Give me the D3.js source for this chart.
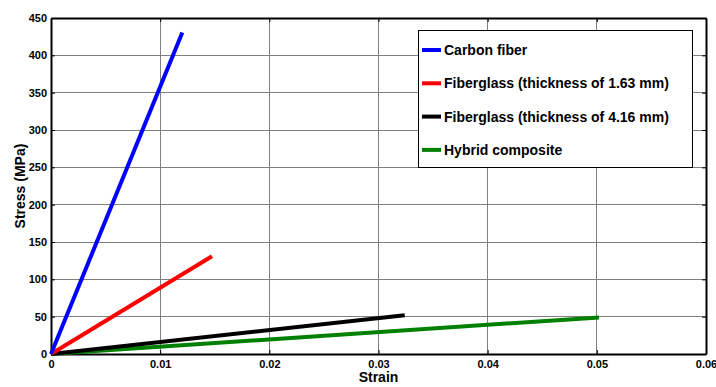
<!DOCTYPE html>
<html><head><meta charset="utf-8">
<script src="https://cdn.jsdelivr.net/npm/d3@7"></script>
<style>body{margin:0;background:#fff}svg{display:block;font-family:"Liberation Sans",Arial,sans-serif}</style>
</head><body>
<svg id="c" width="716" height="387"></svg>
<script>
const seriesNames = ["Carbon fiber","Fiberglass (thickness of 1.63 mm)","Fiberglass (thickness of 4.16 mm)","Hybrid composite"];
const seriesColors = ["#0000ff","#ff0000","#000000","#008000"];
const carbonStrain = [0, 0.01203], carbonStress = [0, 430.5];
const fg163Strain = [0, 0.01475], fg163Stress = [0, 131];
const fg416Strain = [0, 0.0324], fg416Stress = [0, 52];
const hybridStrain = [0, 0.0502], hybridStress = [0, 49];
const xTicks = [0,0.01,0.02,0.03,0.04,0.05,0.06];
const yTicks = [0,50,100,150,200,250,300,350,400,450];

const svg = d3.select("#c");
const L=51,R=706,T=18,B=354;
const x = d3.scaleLinear().domain([0,0.06]).range([L,R]);
const y = d3.scaleLinear().domain([0,450]).range([B,T]);

// grid
const g = svg.append("g");
g.selectAll(".vg").data(xTicks.slice(1,-1)).enter().append("line")
 .attr("x1",d=>x(d)).attr("x2",d=>x(d)).attr("y1",T).attr("y2",B)
 .attr("stroke","#808080").attr("stroke-width",1).attr("shape-rendering","crispEdges");
g.selectAll(".hg").data(yTicks.slice(1,-1)).enter().append("line")
 .attr("y1",d=>y(d)).attr("y2",d=>y(d)).attr("x1",L).attr("x2",R)
 .attr("stroke","#808080").attr("stroke-width",1).attr("shape-rendering","crispEdges");

// axes
const fmtX = d => d===0 ? "0" : d3.format(".2f")(d);
const xa = svg.append("g").attr("transform",`translate(0,${B})`)
 .call(d3.axisBottom(x).tickValues(xTicks).tickFormat(fmtX).tickSizeInner(-4).tickSizeOuter(0).tickPadding(6));
const xt = svg.append("g").attr("transform",`translate(0,${T})`)
 .call(d3.axisTop(x).tickValues(xTicks).tickFormat("").tickSizeInner(-4).tickSizeOuter(0));
const ya = svg.append("g").attr("transform",`translate(${L},0)`)
 .call(d3.axisLeft(y).tickValues(yTicks).tickSizeInner(-4).tickSizeOuter(0).tickPadding(4));
const yr = svg.append("g").attr("transform",`translate(${R},0)`)
 .call(d3.axisRight(y).tickValues(yTicks).tickFormat("").tickSizeInner(-4).tickSizeOuter(0));
[xa,xt,ya,yr].forEach(a=>{
  a.attr("font-family","'Liberation Sans',Arial,sans-serif");
  a.select(".domain").attr("stroke","#000").attr("stroke-width",2);
  a.selectAll(".tick line").attr("stroke","#000");
  a.selectAll("text").attr("font-size",11).attr("font-weight","bold").attr("fill","#000");
});

// lines
const series = [
 {s:carbonStrain,t:carbonStress},
 {s:fg163Strain,t:fg163Stress},
 {s:fg416Strain,t:fg416Stress},
 {s:hybridStrain,t:hybridStress}];
const line = d3.line().x(d=>x(d[0])).y(d=>y(d[1]));
series.slice().reverse().forEach((sr,ri)=>{
  const i = series.length-1-ri;
  svg.append("path").datum(sr.s.map((v,k)=>[v,sr.t[k]]))
   .attr("d",line).attr("fill","none").attr("stroke",seriesColors[i]).attr("stroke-width",4);
});

// labels
svg.append("text").attr("x",(L+R)/2).attr("y",382).attr("text-anchor","middle")
 .attr("font-size",14).attr("font-weight","bold").text("Strain");
svg.append("text").attr("transform",`translate(25,${(T+B)/2}) rotate(-90)`).attr("text-anchor","middle")
 .attr("font-size",14).attr("font-weight","bold").text("Stress (MPa)");

// legend
const lg = svg.append("g");
lg.append("rect").attr("x",418.5).attr("y",30.5).attr("width",274).attr("height",137)
 .attr("fill","#fff").attr("stroke","#000").attr("stroke-width",1);
seriesNames.forEach((n,i)=>{
  const yy = 50 + i*33.3;
  lg.append("line").attr("x1",422).attr("x2",441).attr("y1",yy).attr("y2",yy)
   .attr("stroke",seriesColors[i]).attr("stroke-width",4);
  lg.append("text").attr("x",444).attr("y",yy+5).attr("font-size",14).attr("font-weight","bold").text(n);
});
</script>
</body></html>
